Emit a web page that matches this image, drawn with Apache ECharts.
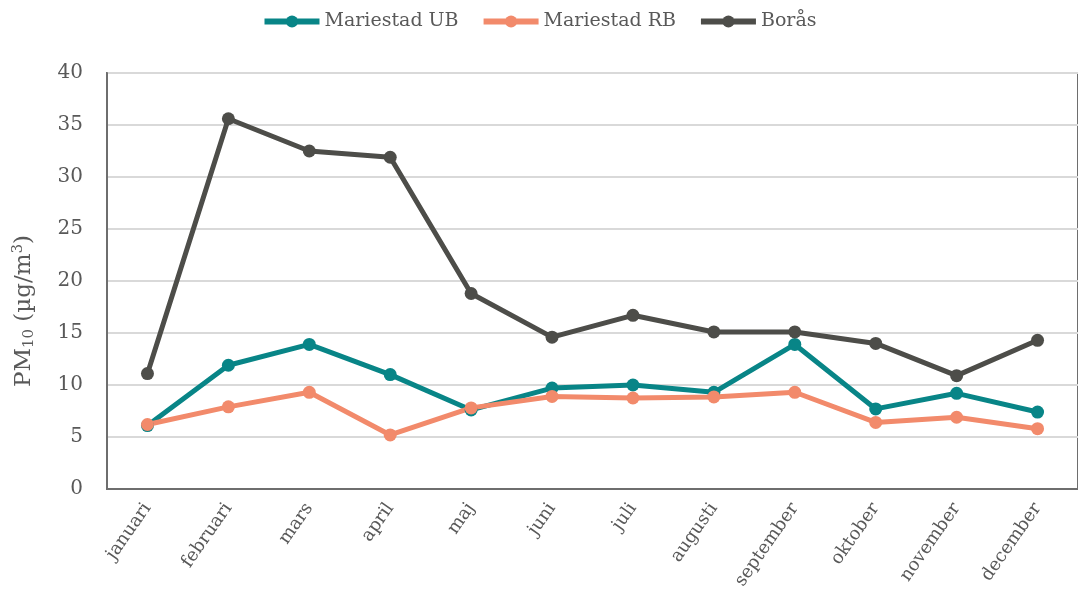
<!DOCTYPE html>
<html>
<head>
<meta charset="utf-8">
<script src="https://cdn.jsdelivr.net/npm/echarts@6/dist/echarts.min.js"></script>
<style>
    html, body { margin: 0; padding: 0; background: #fff; }
    #chart { width: 1078px; height: 605px; }
</style>
</head>
<body>
<div id="chart"></div>
<script>
    // månader
    var months = ['januari', 'februari', 'mars', 'april', 'maj', 'juni', 'juli', 'augusti', 'september', 'oktober', 'november', 'december']
    // PM10 per station
    var ubValues = [6.1, 11.9, 13.9, 11.0, 7.6, 9.7, 10.0, 9.3, 13.9, 7.7, 9.2, 7.4]
    var rbValues = [6.2, 7.9, 9.3, 5.2, 7.8, 8.9, 8.75, 8.85, 9.3, 6.4, 6.9, 5.8]
    var borasValues = [11.1, 35.6, 32.5, 31.9, 18.8, 14.6, 16.7, 15.1, 15.1, 14.0, 10.9, 14.3]

    var colors = ['#088587', '#f28a6b', '#4d4d49']
    var font = 'DejaVu Serif'
    var textColor = '#595959'

    var chart = echarts.init(document.getElementById('chart'))

    function makeSeries (name, data) {
        return {
            name: name,
            type: 'line',
            data: data,
            symbol: 'circle',
            symbolSize: 13,
            lineStyle: { width: 5 },
            emphasis: { disabled: true }
        }
    }

    var options = {
        color: colors,
        animation: false,
        textStyle: { fontFamily: font },
        legend: {
            top: 7,
            left: 'center',
            itemWidth: 55,
            itemHeight: 15,
            itemGap: 22,
            lineStyle: { width: 6 },
            textStyle: { fontSize: 19, color: textColor, fontFamily: font },
            data: ['Mariestad UB', 'Mariestad RB', 'Borås']
        },
        grid: {
            left: 107,
            right: -5,
            top: 73,
            bottom: 116,
            show: true,
            borderColor: '#6e6e6e',
            borderWidth: 2
        },
        xAxis: {
            type: 'category',
            data: months,
            boundaryGap: true,
            axisLine: { lineStyle: { color: '#6e6e6e', width: 2 } },
            axisTick: { show: false },
            axisLabel: {
                rotate: 55,
                margin: 16,
                fontSize: 18,
                color: textColor,
                fontFamily: font,
                interval: 0
            }
        },
        yAxis: {
            type: 'value',
            min: 0,
            max: 40,
            interval: 5,
            name: '{a|PM}{b|10}{a| (µg/m}{c|3}{a|)}',
            nameLocation: 'middle',
            nameGap: 70,
            nameRotate: 90,
            nameTextStyle: {
                padding: [0, 60, 0, 0],
                rich: {
                    a: { fontSize: 23, color: textColor, fontFamily: font },
                    b: { fontSize: 15, color: textColor, fontFamily: font, padding: [11, 0, 0, 0] },
                    c: { fontSize: 15, color: textColor, fontFamily: font, padding: [0, 0, 11, 0] }
                }
            },
            axisLine: { show: true, lineStyle: { color: '#6e6e6e', width: 2 } },
            axisTick: { show: false },
            axisLabel: { fontSize: 20, color: textColor, fontFamily: font, margin: 24 },
            splitLine: { lineStyle: { color: '#d9d9d9', width: 2 } }
        },
        series: [
            makeSeries('Mariestad UB', ubValues),
            makeSeries('Mariestad RB', rbValues),
            makeSeries('Borås', borasValues)
        ]
    }

    chart.setOption(options)
</script>
</body>
</html>
